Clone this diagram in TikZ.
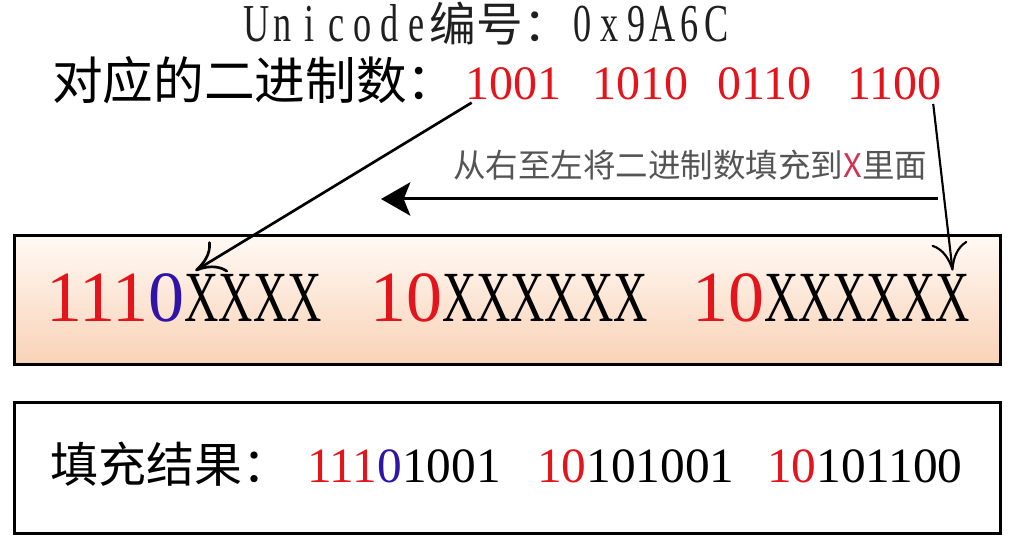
\documentclass[tikz,border=0pt]{standalone}
\usepackage{fontspec}
\setmainfont{Liberation Serif}
\newfontfamily\cjk{Noto Sans CJK SC}
\newfontfamily\narrowser[FakeStretch=0.68]{Liberation Serif}
\newfontfamily\narrowx[FakeStretch=0.66]{Liberation Serif}
\usetikzlibrary{arrows.meta}
\definecolor{cred}{RGB}{228,20,28}
\definecolor{cblue}{RGB}{48,20,168}
\definecolor{lgray}{RGB}{85,85,85}
\definecolor{xpink}{RGB}{210,50,80}
\definecolor{peachtop}{RGB}{255,249,244}
\definecolor{peachbot}{RGB}{249,210,182}
\newcommand{\fsz}[1]{\fontsize{#1}{#1}\selectfont}
% fixed-pitch setting of a string, one box per character
\newcommand{\monostr}[1]{\monoloop#1\relax}
\def\monoloop#1{\ifx#1\relax\else\makebox[20pt][c]{#1}\expandafter\monoloop\fi}
\begin{document}
\begin{tikzpicture}[x=0.75pt,y=-0.75pt,
  txt/.style={inner sep=0pt, outer sep=0pt, anchor=base west},
  frame/.style={draw=black, line width=2.25pt},
  bigdig/.style={txt, font=\fsz{54pt}, text height=36.5pt, text depth=0pt},
  bigx/.style={bigdig, font=\narrowx\fsz{54pt}},
  middig/.style={txt, font=\fsz{36pt}, text height=24.3pt, text depth=0pt, text=cred},
  resdig/.style={txt, font=\fsz{37pt}},
  barb/.style={-{Computer Modern Rightarrow[length=21pt,width=27pt]}, line width=2pt},
  ]
\useasboundingbox (0,0) rectangle (1010,541);

% boxes
\path[top color=peachtop, bottom color=peachbot] (14,236) rectangle (1000,365);
\draw[frame] (14,236) rectangle (1000,365);
\draw[frame] (14,403) rectangle (1000,533);

% line 1
\node[txt, text=black!88] (uni) at (243,42) {{\narrowser\fsz{40pt}\monostr{Unicode}}{\cjk\fsz{35pt}编号：}{\narrowser\fsz{40pt}\monostr{0x9A6C}}};

% line 2
\node[txt, font=\cjk\fsz{38pt}] (lbl2) at (52,100) {对应的二进制数：};
\node[middig] (b1) at (465,100) {1001};
\node[middig] (b2) at (592,100) {1010};
\node[middig] (b3) at (717,100) {0110};
\node[middig] (b4) at (847,100) {1100};

% middle label and arrow
\node[txt, font=\cjk\fsz{24.4pt}, text=lgray] (lab) at (453,178) {从右至左将二进制数填充到\textcolor{xpink}{X}里面};
\coordinate (mr) at (938,199);
\coordinate (ml) at (381,199);
\draw[line width=2.25pt, -{Stealth[length=22pt,width=25pt,inset=5pt]}] (mr) -- (ml);

% box 1 text
\node[bigdig] (p1) at (46,322) {\textcolor{cred}{111}\textcolor{cblue}{0}};
\node[bigx] (x1) at (p1.base east) {XXXX};
\node[bigdig, text=cred] (p2) at (370,322) {10};
\node[bigx] (x2) at (p2.base east) {XXXXXX};
\node[bigdig, text=cred] (p3) at (692,322) {10};
\node[bigx] (x3) at (p3.base east) {XXXXXX};

% arrows to box 1
\draw[barb] ([xshift=5pt,yshift=-2pt]b1.south west) -- ([xshift=8pt,yshift=2pt]x1.north west);
\draw[barb, line width=1.6pt] ([xshift=-6pt,yshift=-3pt]b4.south east) -- ([xshift=-13pt,yshift=2pt]x3.north east);

% box 2 text
\node[txt, font=\cjk\fsz{36pt}] (lbl3) at (50,482) {填充结果：};
\node[resdig] (r1) at (307,482) {\textcolor{cred}{111}\textcolor{cblue}{0}1001};
\node[resdig] (r2) at (537,482) {\textcolor{cred}{10}101001};
\node[resdig] (r3) at (767,482) {\textcolor{cred}{10}101100};
\end{tikzpicture}
\end{document}
